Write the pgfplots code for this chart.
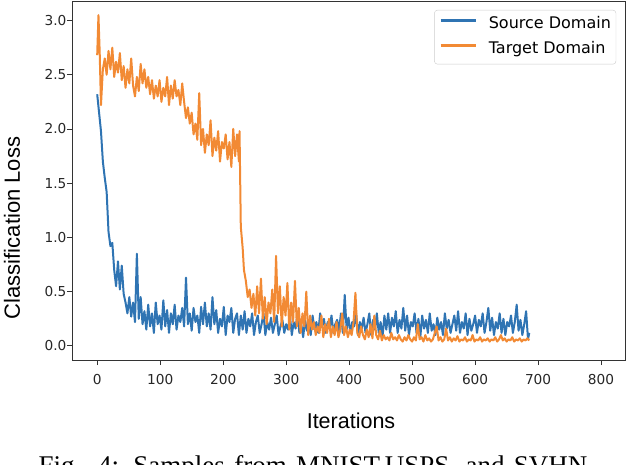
\documentclass[border=0pt]{standalone}
\usepackage{pgfplots}
\pgfplotsset{compat=1.18}
\usepackage{fontspec}
\setmainfont{DejaVu Sans}
\newfontfamily\arialfont{Liberation Sans}
\newfontfamily\capfont{Liberation Serif}
\definecolor{srcblue}{HTML}{2F74B3}
\definecolor{tgtorange}{HTML}{F28A34}

\begin{document}
\begin{tikzpicture}[x=1pt,y=1pt]
\path (0,0) rectangle (628,464);
\begin{axis}[
    at={(72pt,104pt)}, anchor=south west,
    scale only axis, width=553pt, height=359pt,
    xmin=-40, xmax=838, ymin=-0.13, ymax=3.18,
    xtick={0,100,...,800}, ytick={0,0.5,...,3.0},
    tick pos=left, tick align=outside, major tick length=5pt,
    axis line style={black!80, line width=0.9pt},
    tick style={black!80, line width=0.9pt},
    ticklabel style={font=\fontsize{13.7}{16}\selectfont, text=black!85},
    /pgf/number format/assume math mode=true,
    yticklabel style={/pgf/number format/.cd, fixed, fixed zerofill, precision=1,
        /tikz/.cd, xshift=3pt},
    xticklabel style={yshift=-6pt},
    legend style={at={(0.984,0.975)}, anchor=north east, draw=black!20,
        rounded corners=3pt, fill=white, inner xsep=5pt, inner ysep=6.5pt,
        font=\fontsize{16}{19}\selectfont, row sep=9pt,
        nodes={inner sep=0pt, text height=12pt, text depth=4pt},
        /tikz/every odd column/.append style={column sep=12pt}},
    legend cell align=left,
    legend image code/.code={\draw[#1, line width=2.4pt] (0pt,4pt) -- (35pt,4pt);},
    every axis plot/.append style={no markers, line width=2pt, line join=round},
]
\addplot[srcblue] coordinates {
(0,2.32) (3,2.15) (6,1.98) (9,1.70) (12,1.55) (15,1.42) (18,1.05) (21,0.92) (24,0.95) (27,0.70)
(30,0.55) (33,0.78) (36,0.52) (39,0.74) (42,0.48) (45,0.40) (48,0.30) (51,0.45) (54,0.27) (57,0.40)
(60,0.22) (63,0.85) (66,0.25) (69,0.45) (72,0.20) (75,0.32) (78,0.15) (81,0.38) (84,0.18) (87,0.30)
(90,0.12) (93,0.40) (96,0.20) (99,0.28) (102,0.15) (105,0.42) (108,0.18) (111,0.33) (114,0.12) (117,0.30)
(120,0.20) (123,0.38) (126,0.15) (129,0.28) (132,0.22) (135,0.35) (138,0.18) (141,0.63) (144,0.20) (147,0.30)
(150,0.14) (153,0.35) (156,0.22) (159,0.28) (162,0.12) (165,0.36) (168,0.20) (171,0.40) (174,0.18) (177,0.30)
(180,0.15) (183,0.45) (186,0.20) (189,0.33) (192,0.12) (195,0.25) (198,0.18) (201,0.36) (204,0.10) (207,0.28)
(210,0.22) (213,0.35) (216,0.12) (219,0.25) (222,0.30) (225,0.10) (228,0.28) (231,0.15) (234,0.32) (237,0.12)
(240,0.25) (243,0.18) (246,0.30) (249,0.10) (252,0.22) (255,0.28) (258,0.12) (261,0.20) (264,0.30) (267,0.10)
(270,0.22) (273,0.15) (276,0.26) (279,0.12) (282,0.20) (285,0.28) (288,0.10) (291,0.18) (294,0.24) (297,0.12)
(300,0.20) (303,0.15) (306,0.28) (309,0.10) (312,0.22) (315,0.16) (318,0.30) (321,0.12) (324,0.20) (327,0.08)
(330,0.24) (333,0.14) (336,0.20) (339,0.10) (342,0.28) (345,0.15) (348,0.22) (351,0.12) (354,0.30) (357,0.18)
(360,0.25) (363,0.12) (366,0.22) (369,0.16) (372,0.28) (375,0.12) (378,0.20) (381,0.24) (384,0.14) (387,0.30)
(390,0.12) (393,0.47) (396,0.15) (399,0.26) (402,0.12) (405,0.22) (408,0.18) (411,0.30) (414,0.10) (417,0.22)
(420,0.16) (423,0.26) (426,0.12) (429,0.20) (432,0.30) (435,0.10) (438,0.24) (441,0.15) (444,0.30) (447,0.12)
(450,0.22) (453,0.08) (456,0.28) (459,0.15) (462,0.30) (465,0.12) (468,0.26) (471,0.18) (474,0.32) (477,0.12)
(480,0.24) (483,0.16) (486,0.35) (489,0.14) (492,0.28) (495,0.10) (498,0.22) (501,0.18) (504,0.30) (507,0.12)
(510,0.25) (513,0.08) (516,0.28) (519,0.16) (522,0.24) (525,0.12) (528,0.30) (531,0.14) (534,0.20) (537,0.10)
(540,0.26) (543,0.15) (546,0.22) (549,0.10) (552,0.30) (555,0.16) (558,0.24) (561,0.12) (564,0.20) (567,0.28)
(570,0.14) (573,0.32) (576,0.12) (579,0.22) (582,0.16) (585,0.30) (588,0.10) (591,0.25) (594,0.14) (597,0.20)
(600,0.28) (603,0.12) (606,0.24) (609,0.18) (612,0.30) (615,0.12) (618,0.22) (621,0.35) (624,0.14) (627,0.26)
(630,0.10) (633,0.22) (636,0.16) (639,0.30) (642,0.12) (645,0.25) (648,0.10) (651,0.22) (654,0.18) (657,0.28)
(660,0.12) (663,0.22) (666,0.38) (669,0.14) (672,0.24) (675,0.10) (678,0.20) (681,0.32) (684,0.06) (686,0.12)
};
\addplot[tgtorange] coordinates {
(0,2.68) (2,3.05) (4,2.70) (6,2.22) (9,2.55) (12,2.65) (15,2.50) (18,2.72) (21,2.55) (24,2.75)
(27,2.48) (30,2.62) (33,2.52) (36,2.70) (39,2.45) (42,2.58) (45,2.38) (48,2.55) (51,2.42) (54,2.65)
(57,2.40) (60,2.30) (63,2.48) (66,2.35) (69,2.60) (72,2.42) (75,2.55) (78,2.38) (81,2.48) (84,2.32)
(87,2.45) (90,2.28) (93,2.40) (96,2.30) (99,2.45) (102,2.25) (105,2.38) (108,2.30) (111,2.48) (114,2.22)
(117,2.40) (120,2.28) (123,2.45) (126,2.30) (129,2.36) (132,2.22) (135,2.42) (138,2.25) (141,2.10) (144,2.20)
(147,2.05) (150,2.15) (153,1.95) (156,2.05) (159,1.90) (162,2.33) (165,1.85) (168,2.00) (171,1.78) (174,1.95)
(177,1.85) (180,2.08) (183,1.75) (186,1.92) (189,1.80) (192,1.98) (195,1.70) (198,1.88) (201,1.82) (204,1.95)
(207,1.72) (210,1.88) (213,1.65) (216,2.00) (219,1.75) (222,1.95) (225,1.70) (226,1.98) (228,1.10) (231,0.90)
(233,0.70) (236,0.60) (239,0.45) (242,0.52) (245,0.35) (248,0.48) (251,0.28) (254,0.55) (257,0.30) (260,0.62)
(263,0.25) (266,0.45) (269,0.20) (272,0.40) (275,0.30) (278,0.52) (281,0.22) (284,0.83) (287,0.30) (290,0.55)
(293,0.18) (296,0.45) (299,0.28) (302,0.58) (305,0.15) (308,0.40) (311,0.22) (314,0.60) (317,0.18) (320,0.35)
(323,0.12) (326,0.30) (329,0.18) (332,0.50) (335,0.10) (338,0.28) (341,0.15) (344,0.22) (347,0.10) (350,0.18)
(353,0.12) (356,0.28) (359,0.08) (362,0.20) (365,0.12) (368,0.25) (371,0.08) (374,0.18) (377,0.10) (380,0.22)
(383,0.08) (386,0.15) (389,0.30) (392,0.10) (395,0.18) (398,0.08) (401,0.15) (404,0.10) (407,0.22) (410,0.49)
(413,0.12) (416,0.08) (419,0.18) (422,0.10) (425,0.06) (428,0.15) (431,0.08) (434,0.20) (437,0.07) (440,0.28)
(443,0.10) (446,0.06) (449,0.14) (452,0.05) (455,0.10) (458,0.06) (461,0.08) (464,0.05) (467,0.12) (470,0.06)
(473,0.08) (476,0.05) (479,0.10) (482,0.06) (485,0.04) (488,0.08) (491,0.05) (494,0.10) (497,0.06) (500,0.04)
(503,0.08) (506,0.05) (509,0.20) (512,0.06) (515,0.08) (518,0.04) (521,0.10) (524,0.05) (527,0.07) (530,0.04)
(533,0.06) (536,0.12) (539,0.18) (542,0.05) (545,0.08) (548,0.04) (551,0.06) (554,0.16) (557,0.05) (560,0.08)
(563,0.04) (566,0.07) (569,0.05) (572,0.09) (575,0.04) (578,0.06) (581,0.05) (584,0.08) (587,0.04) (590,0.06)
(593,0.05) (596,0.10) (599,0.04) (602,0.06) (605,0.05) (608,0.08) (611,0.04) (614,0.06) (617,0.05) (620,0.07)
(623,0.04) (626,0.06) (629,0.05) (632,0.08) (635,0.04) (638,0.06) (641,0.10) (644,0.05) (647,0.07) (650,0.04)
(653,0.06) (656,0.05) (659,0.08) (662,0.04) (665,0.06) (668,0.05) (671,0.07) (674,0.04) (677,0.06) (680,0.05)
(683,0.07) (686,0.05)
};
\legend{Source Domain, Target Domain}
\end{axis}
\node[anchor=base, rotate=90, font=\arialfont\fontsize{22}{26}\selectfont] at (20,236) {Classification Loss};
\node[anchor=base, font=\arialfont\fontsize{21.5}{26}\selectfont] at (351,36) {Iterations};
% caption: only the top of its letters lies on the page
\node[anchor=south, inner sep=0pt, font=\capfont\fontsize{27}{32}\selectfont] at (313,0)
    {\raisebox{-11pt}[7pt][0pt]{\makebox[549pt][s]{Fig. 4: Samples from MNIST,USPS, and SVHN}}};
\end{tikzpicture}
\end{document}
